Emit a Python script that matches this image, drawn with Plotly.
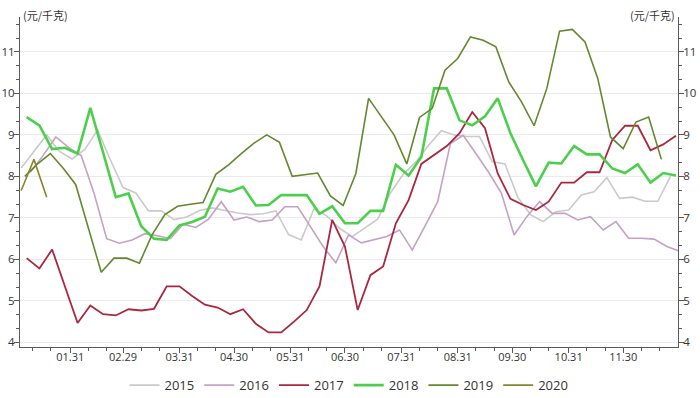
import pandas as pd
import plotly.graph_objects as go

# ---- data (weekly observations, plotted on a common Jan–Dec axis) ----
years = ["2015", "2016", "2017", "2018", "2019", "2020"]
start_dates = ["2020-01-04", "2020-01-09", "2020-01-07", "2020-01-07", "2020-01-06", "2020-01-04"]

v2015 = [8.2, 8.6, 9.0, 8.6, 8.42, 8.65, 9.12, 8.4, 7.73, 7.6, 7.17, 7.17, 6.96, 7.02, 7.18, 7.24,
         7.18, 7.12, 7.08, 7.1, 7.17, 6.6, 6.47, 7.22, 7.05, 6.75, 6.55, 6.75, 6.97, 7.6, 8.05, 8.35,
         8.75, 9.1, 9.0, 8.96, 8.96, 8.35, 8.3, 7.5, 7.08, 6.91, 7.15, 7.19, 7.55, 7.63, 7.97, 7.47,
         7.5, 7.4, 7.4, 8.0]
v2016 = [8.1, 8.5, 8.95, 8.7, 8.5, 7.6, 6.5, 6.39, 6.47, 6.62, 6.57, 6.5, 6.85, 6.77, 6.97, 7.39,
         6.95, 7.02, 6.91, 6.95, 7.27, 7.27, 6.79, 6.31, 5.92, 6.59, 6.40, 6.47, 6.55, 6.71, 6.23, 6.8,
         7.39, 8.79, 8.99, 8.55, 8.1, 7.6, 6.59, 7.03, 7.39, 7.11, 7.11, 6.95, 7.03, 6.71, 6.91, 6.51,
         6.51, 6.49, 6.31, 6.2]
v2017 = [6.03, 5.78, 6.24, 5.36, 4.47, 4.89, 4.68, 4.65, 4.80, 4.77, 4.81, 5.35, 5.35, 5.12, 4.91, 4.84,
         4.68, 4.80, 4.45, 4.24, 4.24, 4.50, 4.78, 5.35, 6.95, 6.31, 4.78, 5.62, 5.83, 6.87, 7.43, 8.30,
         8.51, 8.73, 9.04, 9.55, 9.16, 8.07, 7.46, 7.31, 7.19, 7.39, 7.85, 7.85, 8.10, 8.10, 8.88, 9.22,
         9.22, 8.63, 8.77, 8.98]
v2018 = [9.43, 9.23, 8.66, 8.69, 8.55, 9.65, 8.58, 7.5, 7.59, 6.8, 6.5, 6.47, 6.82, 6.9, 7.03, 7.71,
         7.63, 7.75, 7.3, 7.31, 7.55, 7.55, 7.55, 7.1, 7.28, 6.87, 6.87, 7.17, 7.17, 8.28, 8.02, 8.47,
         10.12, 10.12, 9.35, 9.23, 9.45, 9.88, 9.04, 8.39, 7.76, 8.33, 8.31, 8.73, 8.53, 8.53, 8.19, 8.08,
         8.29, 7.85, 8.08, 8.02]
v2019 = [8.0, 8.3, 8.55, 8.2, 7.8, 6.75, 5.69, 6.03, 6.03, 5.91, 6.6, 7.08, 7.28, 7.33, 7.37, 8.05,
         8.28, 8.55, 8.8, 9.0, 8.82, 8.0, 8.04, 8.08, 7.53, 7.3, 8.07, 9.88, 9.44, 9.0, 8.3, 9.42,
         9.64, 10.56, 10.84, 11.36, 11.28, 11.12, 10.28, 9.8, 9.22, 10.12, 11.5, 11.54, 11.24, 10.36,
         8.95, 8.67, 9.31, 9.43, 8.41]
v2020 = [7.66, 8.41, 7.5]

series_values = [v2015, v2016, v2017, v2018, v2019, v2020]

tick_dates = ["2020-01-31", "2020-02-29", "2020-03-31", "2020-04-30", "2020-05-31", "2020-06-30",
              "2020-07-31", "2020-08-31", "2020-09-30", "2020-10-31", "2020-11-30"]
tick_labels = ["01.31", "02.29", "03.31", "04.30", "05.31", "06.30",
               "07.31", "08.31", "09.30", "10.31", "11.30"]
unit_label = "(元/千克)"

# ---- styling ----
colors = ["#cacaca", "#c6a0c6", "#a8283f", "#4ccf4c", "#64882e", "#86862e"]
widths = [1.6, 1.6, 1.8, 2.6, 1.6, 1.6]
axis_color = "#5a5a5a"
text_color = "#333333"
font_family = "Open Sans, Noto Sans CJK SC, sans-serif"

fig = go.Figure()
for name, start, vals, c, w in zip(years, start_dates, series_values, colors, widths):
    dates = pd.date_range(start, periods=len(vals), freq="7D")
    fig.add_trace(go.Scatter(x=dates, y=vals, mode="lines", name=name,
                             line=dict(color=c, width=w)))

# transparent companion trace so the right-hand axis is drawn
fig.add_trace(go.Scatter(x=pd.date_range(start_dates[3], periods=len(v2018), freq="7D"), y=v2018,
                         yaxis="y2", mode="lines", showlegend=False, hoverinfo="skip",
                         line=dict(color="rgba(0,0,0,0)", width=0)))

minor_dates = []
for m in range(1, 13):
    for d in (10, 20):
        minor_dates.append(f"2020-{m:02d}-{d:02d}")

x_range = [pd.Timestamp("2020-01-03 08:00"), pd.Timestamp("2020-12-30 03:00")]
y_range = [3.89, 11.84]

yaxis_common = dict(
    range=y_range, tick0=0, dtick=1, ticks="outside", ticklen=5, tickcolor=axis_color,
    showline=True, linecolor=axis_color, linewidth=1, zeroline=False, automargin=False,
    tickfont=dict(size=11.5, color=text_color, family=font_family), ticklabelstandoff=-3,
    minor=dict(tick0=0, dtick=1/3, ticks="outside", ticklen=3, tickcolor=axis_color, showgrid=False),
)

fig.update_layout(
    width=700, height=398,
    margin=dict(l=20, r=22, t=17, b=51, autoexpand=False),
    paper_bgcolor="white", plot_bgcolor="white",
    font=dict(family=font_family, color=text_color),
    xaxis=dict(
        type="date", range=x_range, tickmode="array", tickvals=tick_dates, ticktext=tick_labels,
        ticks="outside", ticklen=5, tickcolor=axis_color, showline=True, linecolor=axis_color,
        linewidth=1, showgrid=False, zeroline=False, automargin=False, ticklabelstandoff=-5,
        tickfont=dict(size=11, color=text_color, family=font_family),
        minor=dict(tickmode="array", tickvals=minor_dates, ticks="outside", ticklen=3,
                   tickcolor=axis_color, showgrid=False),
    ),
    yaxis=dict(showgrid=True, gridcolor="#ebebeb", gridwidth=1, side="left", **yaxis_common),
    yaxis2=dict(overlaying="y", side="right", showgrid=False, **yaxis_common),
    legend=dict(orientation="h", x=0.5, xanchor="center", yref="container", y=0.07,
                yanchor="top", font=dict(size=13, color=text_color, family=font_family),
                itemwidth=30, bgcolor="rgba(0,0,0,0)"),
    showlegend=True,
    annotations=[
        dict(text=unit_label, xref="paper", yref="paper", x=0, y=1.006, xanchor="left",
             yanchor="middle", showarrow=False, xshift=1,
             font=dict(size=11, color=text_color, family="Noto Sans CJK SC")),
        dict(text=unit_label, xref="paper", yref="paper", x=1, y=1.006, xanchor="right",
             yanchor="middle", showarrow=False, xshift=-1,
             font=dict(size=11, color=text_color, family="Noto Sans CJK SC")),
    ],
)

# remove the default 8px page margin so the 700x398 figure fills the window exactly
fig.write_html("out.html", config={"displayModeBar": False},
               post_script="document.body.style.margin='0';")
